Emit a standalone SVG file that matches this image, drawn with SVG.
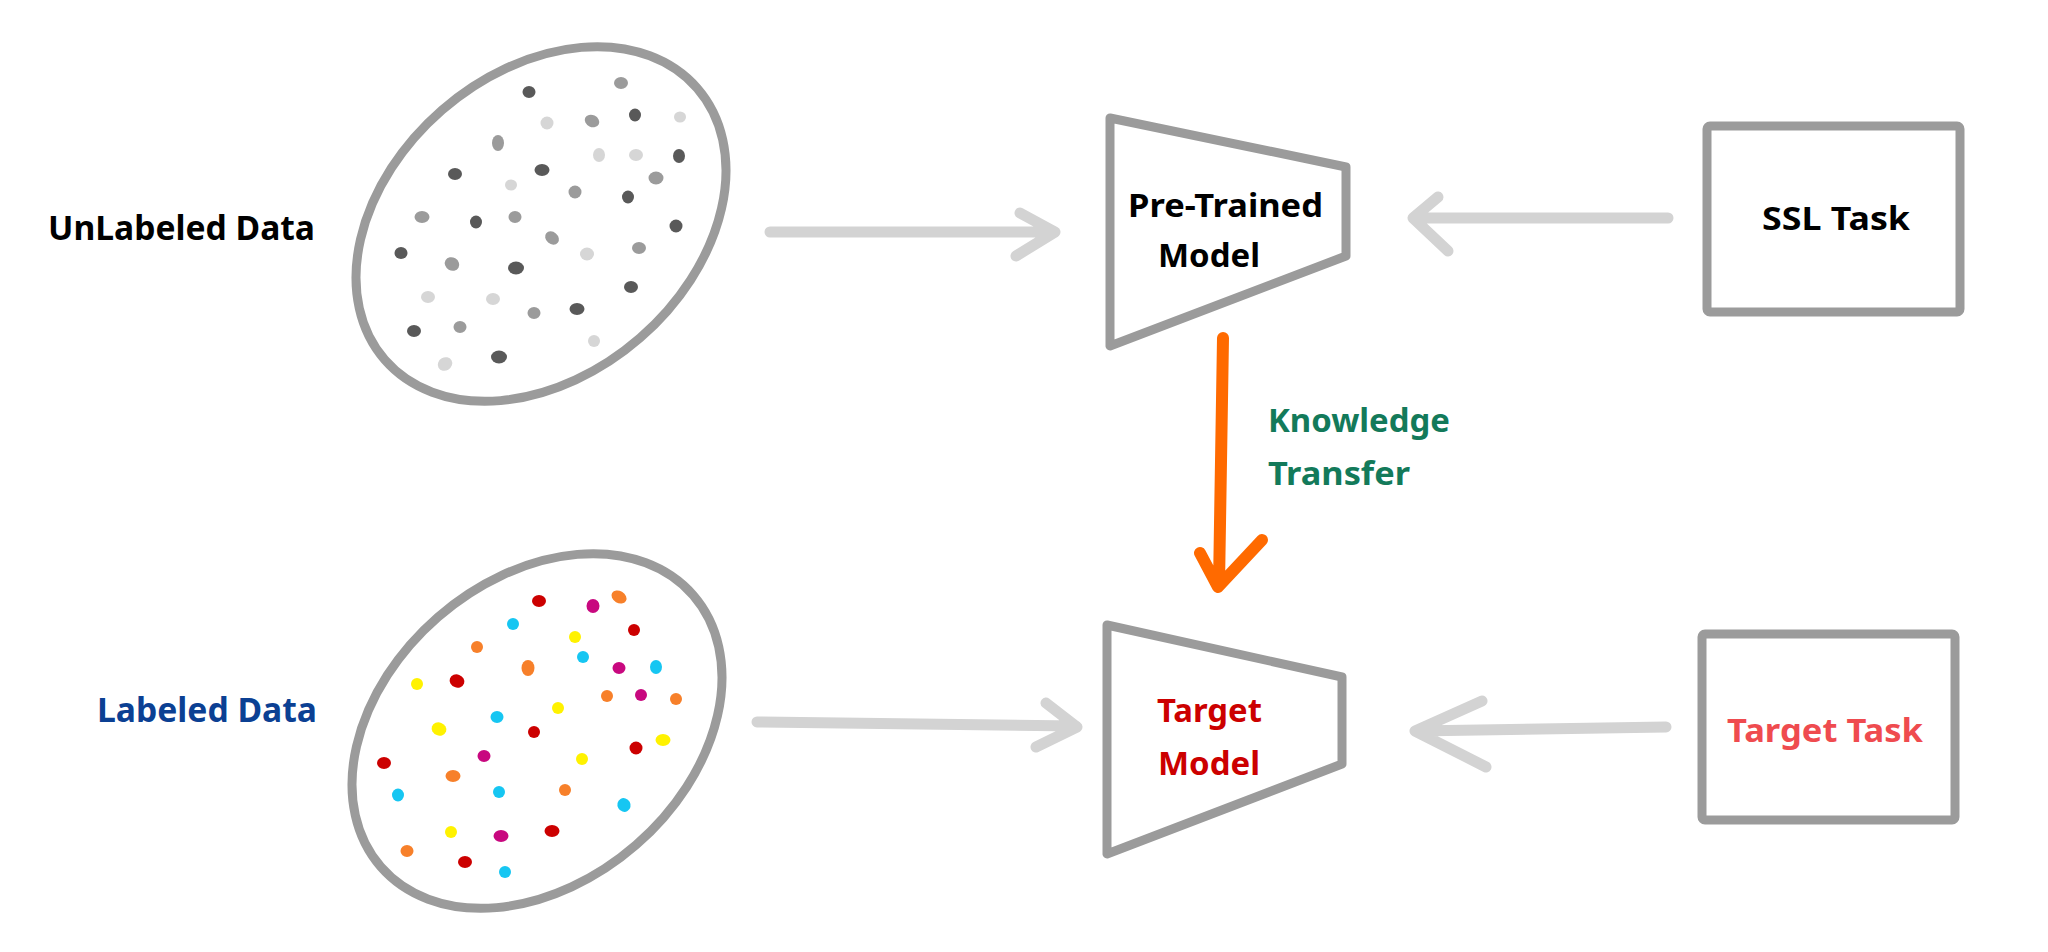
<svg xmlns="http://www.w3.org/2000/svg" width="2048" height="952" viewBox="0 0 2048 952">
<style>
.shape{fill:#fff;stroke:#9b9b9b;stroke-width:9;stroke-linejoin:round}
.lbl{font-family:"Noto Sans","DejaVu Sans",sans-serif;font-weight:700;font-size:32px}
.big{font-size:34px}
.conn{fill:none;stroke:#d3d3d3;stroke-width:11;stroke-linecap:round;stroke-linejoin:round}
.kt{fill:none;stroke:#ff6a00;stroke-width:12;stroke-linecap:round;stroke-linejoin:round}
.d1{fill:#595959}.d2{fill:#9b9b9b}.d3{fill:#d6d6d6}
.r{fill:#cc0000}.m{fill:#c8087f}.o{fill:#f7802a}.c{fill:#16c6f2}.y{fill:#fff200}
</style>
<rect width="2048" height="952" fill="#fff"/>

<g id="connectors">
<path class="conn" d="M770 232 H1052 M1020 213 L1055 232 L1016 256"/>
<path class="conn" d="M1668 218 H1414 M1438 197 L1413 218 L1448 251"/>
<path class="conn" d="M757 722 L1076 726 M1046 703 L1077 727 L1036 747"/>
<path class="conn" d="M1666 727 L1416 731 M1482 701 L1415 731 L1486 767"/>
<path class="kt" d="M1223 338 L1219 585 M1200 553 L1218 587 L1262 540"/>
</g>

<g id="unlabeled-label"><text class="lbl big" x="48" y="240" fill="#000" textLength="267" lengthAdjust="spacingAndGlyphs">UnLabeled Data</text></g>
<g id="labeled-label"><text class="lbl big" x="97" y="722" fill="#0b4093" textLength="220" lengthAdjust="spacingAndGlyphs">Labeled Data</text></g>

<g id="unlabeled-data">
<ellipse class="shape" cx="541" cy="224" rx="207" ry="151" transform="rotate(-41 541 224)"/>
<ellipse class="d1" cx="529" cy="92" rx="6.5" ry="6"/>
<ellipse class="d2" cx="621" cy="83" rx="7" ry="6"/>
<ellipse class="d1" cx="635" cy="115" rx="6" ry="6.5"/>
<ellipse class="d3" cx="680" cy="117" rx="6" ry="5.5"/>
<ellipse class="d3" cx="547" cy="123" rx="6.5" ry="6.5"/>
<ellipse class="d2" cx="592" cy="121" rx="7.5" ry="6" transform="rotate(25 592 121)"/>
<ellipse class="d2" cx="498" cy="143" rx="6" ry="8"/>
<ellipse class="d3" cx="599" cy="155" rx="6" ry="7"/>
<ellipse class="d3" cx="636" cy="155" rx="7" ry="6"/>
<ellipse class="d1" cx="679" cy="156" rx="6" ry="7"/>
<ellipse class="d1" cx="455" cy="174" rx="7" ry="6"/>
<ellipse class="d1" cx="542" cy="170" rx="7.5" ry="6"/>
<ellipse class="d3" cx="511" cy="185" rx="6" ry="5.5"/>
<ellipse class="d2" cx="575" cy="192" rx="6.5" ry="6.5"/>
<ellipse class="d2" cx="656" cy="178" rx="7.5" ry="6.5"/>
<ellipse class="d1" cx="628" cy="197" rx="6" ry="6.5"/>
<ellipse class="d2" cx="422" cy="217" rx="7.5" ry="6"/>
<ellipse class="d1" cx="476" cy="222" rx="6" ry="6.5"/>
<ellipse class="d2" cx="515" cy="217" rx="6.5" ry="6"/>
<ellipse class="d2" cx="552" cy="238" rx="7.5" ry="6" transform="rotate(40 552 238)"/>
<ellipse class="d1" cx="676" cy="226" rx="6.5" ry="6.5"/>
<ellipse class="d1" cx="401" cy="253" rx="6.5" ry="6"/>
<ellipse class="d2" cx="452" cy="264" rx="7.5" ry="6.5" transform="rotate(30 452 264)"/>
<ellipse class="d1" cx="516" cy="268" rx="8" ry="6.5"/>
<ellipse class="d3" cx="587" cy="254" rx="7" ry="6.5"/>
<ellipse class="d2" cx="639" cy="248" rx="7" ry="6"/>
<ellipse class="d1" cx="631" cy="287" rx="7" ry="6"/>
<ellipse class="d3" cx="428" cy="297" rx="7" ry="6"/>
<ellipse class="d3" cx="493" cy="299" rx="7" ry="6"/>
<ellipse class="d2" cx="534" cy="313" rx="6.5" ry="6"/>
<ellipse class="d1" cx="577" cy="309" rx="7.5" ry="6"/>
<ellipse class="d1" cx="414" cy="331" rx="7" ry="6"/>
<ellipse class="d2" cx="460" cy="327" rx="6.5" ry="6"/>
<ellipse class="d3" cx="594" cy="341" rx="6" ry="6"/>
<ellipse class="d3" cx="445" cy="364" rx="7.5" ry="6.5" transform="rotate(-30 445 364)"/>
<ellipse class="d1" cx="499" cy="357" rx="8" ry="6.5"/>
</g>

<g id="labeled-data">
<ellipse class="shape" cx="537" cy="731" rx="207" ry="151" transform="rotate(-41 537 731)"/>
<ellipse class="r" cx="539" cy="601" rx="7" ry="6"/>
<ellipse class="m" cx="593" cy="606" rx="6.5" ry="7"/>
<ellipse class="o" cx="619" cy="597" rx="8" ry="6" transform="rotate(30 619 597)"/>
<ellipse class="c" cx="513" cy="624" rx="6" ry="6"/>
<ellipse class="y" cx="575" cy="637" rx="6" ry="6"/>
<ellipse class="r" cx="634" cy="630" rx="6" ry="6"/>
<ellipse class="o" cx="477" cy="647" rx="6" ry="6"/>
<ellipse class="o" cx="528" cy="668" rx="6.5" ry="8"/>
<ellipse class="c" cx="583" cy="657" rx="6" ry="6"/>
<ellipse class="m" cx="619" cy="668" rx="6.5" ry="6"/>
<ellipse class="c" cx="656" cy="667" rx="6" ry="7"/>
<ellipse class="y" cx="417" cy="684" rx="6" ry="6"/>
<ellipse class="r" cx="457" cy="681" rx="7.5" ry="6.5" transform="rotate(20 457 681)"/>
<ellipse class="o" cx="607" cy="696" rx="6" ry="6"/>
<ellipse class="m" cx="641" cy="695" rx="6" ry="6"/>
<ellipse class="o" cx="676" cy="699" rx="6" ry="6"/>
<ellipse class="y" cx="558" cy="708" rx="6" ry="6"/>
<ellipse class="c" cx="497" cy="717" rx="6.5" ry="6"/>
<ellipse class="y" cx="439" cy="729" rx="7.5" ry="6.5" transform="rotate(20 439 729)"/>
<ellipse class="r" cx="534" cy="732" rx="6" ry="6"/>
<ellipse class="r" cx="636" cy="748" rx="6.5" ry="6.5"/>
<ellipse class="y" cx="663" cy="740" rx="7.5" ry="6"/>
<ellipse class="r" cx="384" cy="763" rx="7" ry="6"/>
<ellipse class="m" cx="484" cy="756" rx="6.5" ry="6"/>
<ellipse class="y" cx="582" cy="759" rx="6" ry="6"/>
<ellipse class="o" cx="453" cy="776" rx="7.5" ry="6"/>
<ellipse class="c" cx="398" cy="795" rx="6" ry="6.5"/>
<ellipse class="c" cx="499" cy="792" rx="6" ry="6"/>
<ellipse class="o" cx="565" cy="790" rx="6" ry="6"/>
<ellipse class="c" cx="624" cy="805" rx="6.5" ry="7" transform="rotate(-30 624 805)"/>
<ellipse class="y" cx="451" cy="832" rx="6" ry="6"/>
<ellipse class="m" cx="501" cy="836" rx="7.5" ry="6"/>
<ellipse class="r" cx="552" cy="831" rx="7.5" ry="6"/>
<ellipse class="o" cx="407" cy="851" rx="6.5" ry="6"/>
<ellipse class="r" cx="465" cy="862" rx="7" ry="6"/>
<ellipse class="c" cx="505" cy="872" rx="6" ry="6"/>
</g>

<g id="pretrained-model">
<path class="shape" d="M1110 118 L1346 167 L1346 256 L1110 346 Z"/>
<text class="lbl" x="1128" y="217" fill="#000" textLength="195" lengthAdjust="spacingAndGlyphs">Pre-Trained</text>
<text class="lbl" x="1158" y="267" fill="#000" textLength="102" lengthAdjust="spacingAndGlyphs">Model</text>
</g>

<g id="target-model">
<path class="shape" d="M1107 625 L1342 677 L1342 764 L1107 854 Z"/>
<text class="lbl" x="1157" y="722" fill="#cc0000" textLength="105" lengthAdjust="spacingAndGlyphs">Target</text>
<text class="lbl" x="1158" y="775" fill="#cc0000" textLength="102" lengthAdjust="spacingAndGlyphs">Model</text>
</g>

<g id="knowledge-transfer-label">
<text class="lbl" x="1268" y="432" fill="#137a5a" textLength="182" lengthAdjust="spacingAndGlyphs">Knowledge</text>
<text class="lbl" x="1268" y="485" fill="#137a5a" textLength="142" lengthAdjust="spacingAndGlyphs">Transfer</text>
</g>

<g id="ssl-task">
<rect class="shape" x="1707" y="126" width="253" height="186" rx="3"/>
<text class="lbl" x="1762" y="230" fill="#000" textLength="148" lengthAdjust="spacingAndGlyphs">SSL Task</text>
</g>

<g id="target-task">
<rect class="shape" x="1702" y="634" width="253" height="186" rx="3"/>
<text class="lbl" x="1727" y="742" fill="#ef4b4f" textLength="196" lengthAdjust="spacingAndGlyphs">Target Task</text>
</g>
</svg>
